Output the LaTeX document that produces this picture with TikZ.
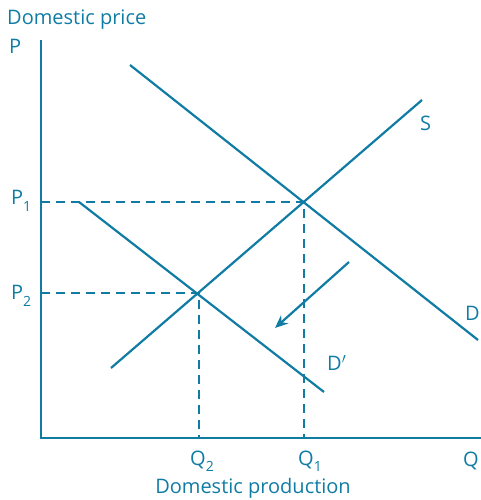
\documentclass[tikz,border=0pt]{standalone}
\usepackage{fontspec}
\setmainfont{Open Sans}
\usetikzlibrary{arrows.meta}
\definecolor{econ}{RGB}{16,124,164}
\newcommand{\lowsub}[1]{\raisebox{-0.6ex}{\fontsize{14}{14}\selectfont #1}}
\begin{document}
\begin{tikzpicture}[x=1pt,y=-1pt,
  curve/.style={draw=econ,line width=2.2pt},
  guide/.style={draw=econ,line width=2.2pt,dash pattern=on 9pt off 6pt},
  lbl/.style={text=econ,font=\fontsize{20}{20}\selectfont,inner sep=0pt}]
\useasboundingbox (0,0) rectangle (480,500);
% axes
\coordinate (ytop) at (41,40);
\coordinate (orig) at (41,438);
\coordinate (xend) at (482,438);
\draw[curve] (ytop) -- (orig) -- (xend);
% curves
\coordinate (Da) at (130,65); \coordinate (Db) at (478,340);
\coordinate (Sa) at (111,368); \coordinate (Sb) at (422,100);
\coordinate (Dpa) at (79,202); \coordinate (Dpb) at (324,392);
\draw[curve] (Da) -- (Db);
\draw[curve] (Sa) -- (Sb);
\draw[curve] (Dpa) -- (Dpb);
% equilibria
\coordinate (E1) at (304,202);
\coordinate (E2) at (199,293);
\coordinate (P1) at (41,202);
\coordinate (P2) at (41,293);
\coordinate (Q1) at (304,438);
\coordinate (Q2) at (199,438);
\draw[guide] (P1) -- (E1) -- (Q1);
\draw[guide] (P2) -- (E2) -- (Q2);
% shift arrow
\coordinate (Aa) at (349,262);
\coordinate (Ab) at (275,328);
\draw[curve,-{Stealth[length=13pt,width=11pt]}] (Aa) -- (Ab);
% labels
\node[lbl,anchor=west] (ytitle) at (7,20) {Domestic price};
\node[lbl,anchor=west] (plab) at (9,46) {P};
\node[lbl,anchor=west] (p1lab) at (11,201) {P\lowsub{1}};
\node[lbl,anchor=west] (p2lab) at (11,296) {P\lowsub{2}};
\node[lbl,anchor=west] (slab) at (420,123) {S};
\node[lbl,anchor=west] (dlab) at (465,313) {D};
\node[lbl,anchor=west] (dplab) at (327,363) {D$'$};
\node[lbl,anchor=west] (q2lab) at (190,461) {Q\lowsub{2}};
\node[lbl,anchor=west] (q1lab) at (298,461) {Q\lowsub{1}};
\node[lbl,anchor=west] (qlab) at (463,461) {Q};
\node[lbl] (xtitle) at (253,488) {Domestic production};
\end{tikzpicture}
\end{document}
